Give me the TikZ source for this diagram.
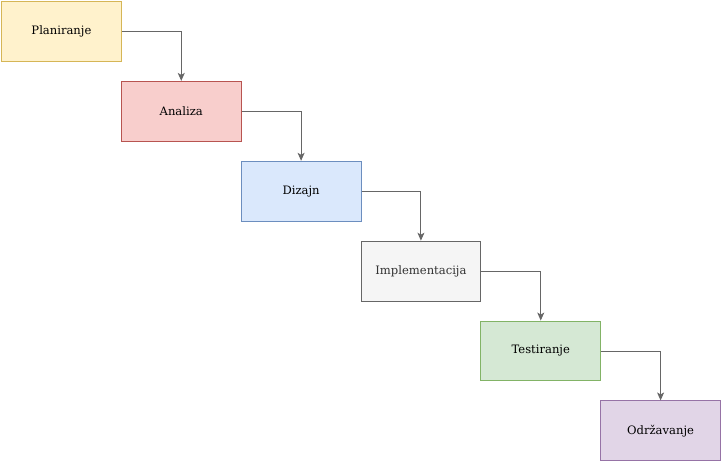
\documentclass[tikz,border=0pt]{standalone}
\usepackage{fontspec}
\setmainfont{DejaVu Serif}
\usetikzlibrary{arrows.meta}
\definecolor{yF}{HTML}{FFF2CC}\definecolor{yD}{HTML}{D6B656}
\definecolor{rF}{HTML}{F8CECC}\definecolor{rD}{HTML}{B85450}
\definecolor{bF}{HTML}{DAE8FC}\definecolor{bD}{HTML}{6C8EBF}
\definecolor{gF}{HTML}{F5F5F5}\definecolor{gD}{HTML}{666666}
\definecolor{gT}{HTML}{333333}
\definecolor{nF}{HTML}{D5E8D4}\definecolor{nD}{HTML}{82B366}
\definecolor{pF}{HTML}{E1D5E7}\definecolor{pD}{HTML}{9673A6}
\definecolor{edge}{HTML}{666666}
\tikzset{
  phase/.style={draw, line width=1pt, minimum width=120pt, minimum height=60pt, inner sep=0pt, font=\fontsize{11.6}{14}\selectfont, anchor=north west},
  conn/.style={draw=edge, line width=1pt, -{Stealth[length=8pt,width=7pt,inset=2pt]}}
}
\begin{document}
\begin{tikzpicture}[x=1pt,y=-1pt]
\useasboundingbox (-0.5,-0.5) rectangle (721.5,461.5);
\node[phase, fill=yF, draw=yD] (p1) at (0.5,0.5) {Planiranje};
\node[phase, fill=rF, draw=rD] (p2) at (120.5,80.5) {Analiza};
\node[phase, fill=bF, draw=bD] (p3) at (240.5,160.5) {Dizajn};
\node[phase, fill=gF, draw=gD, text=gT] (p4) at (360.5,240.5) {Implementacija};
\node[phase, fill=nF, draw=nD] (p5) at (480.5,320.5) {Testiranje};
\node[phase, fill=pF, draw=pD] (p6) at (600.5,400.5) {Održavanje};
\draw[conn] (p1.east) -| (p2.north);
\draw[conn] (p2.east) -| (p3.north);
\draw[conn] (p3.east) -| (p4.north);
\draw[conn] (p4.east) -| (p5.north);
\draw[conn] (p5.east) -| (p6.north);
\end{tikzpicture}
\end{document}
